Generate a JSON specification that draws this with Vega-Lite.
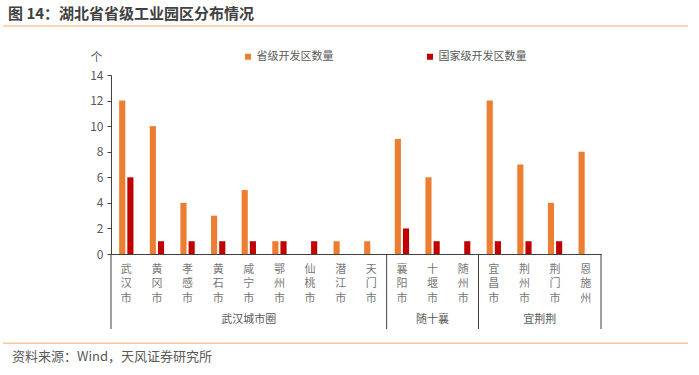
{
  "$schema": "https://vega.github.io/schema/vega-lite/v6.json",
  "autosize": "none",
  "width": 490,
  "height": 179,
  "padding": {"left": 111, "top": 75, "right": 98, "bottom": 121},
  "background": "white",
  "config": {
    "view": {"stroke": null},
    "font": "Noto Sans CJK SC",
    "axis": {"labelFont": "Noto Sans CJK SC", "titleFont": "Noto Sans CJK SC"},
    "axisY": {
      "tickCount": 7,
      "labelOverlap": false,
      "labelFlush": false,
      "grid": false,
      "tickSize": 4,
      "tickColor": "#404040",
      "domainColor": "#404040",
      "labelFontSize": 12,
      "labelColor": "#595959",
      "labelPadding": 4
    },
    "legend": {"labelFont": "Noto Sans CJK SC"}
  },
  "datasets": {
    "zones": [
      {"city": "武汉市", "type": "省级开发区数量", "count": 12},
      {"city": "武汉市", "type": "国家级开发区数量", "count": 6},
      {"city": "黄冈市", "type": "省级开发区数量", "count": 10},
      {"city": "黄冈市", "type": "国家级开发区数量", "count": 1},
      {"city": "孝感市", "type": "省级开发区数量", "count": 4},
      {"city": "孝感市", "type": "国家级开发区数量", "count": 1},
      {"city": "黄石市", "type": "省级开发区数量", "count": 3},
      {"city": "黄石市", "type": "国家级开发区数量", "count": 1},
      {"city": "咸宁市", "type": "省级开发区数量", "count": 5},
      {"city": "咸宁市", "type": "国家级开发区数量", "count": 1},
      {"city": "鄂州市", "type": "省级开发区数量", "count": 1},
      {"city": "鄂州市", "type": "国家级开发区数量", "count": 1},
      {"city": "仙桃市", "type": "省级开发区数量", "count": 0},
      {"city": "仙桃市", "type": "国家级开发区数量", "count": 1},
      {"city": "潜江市", "type": "省级开发区数量", "count": 1},
      {"city": "潜江市", "type": "国家级开发区数量", "count": 0},
      {"city": "天门市", "type": "省级开发区数量", "count": 1},
      {"city": "天门市", "type": "国家级开发区数量", "count": 0},
      {"city": "襄阳市", "type": "省级开发区数量", "count": 9},
      {"city": "襄阳市", "type": "国家级开发区数量", "count": 2},
      {"city": "十堰市", "type": "省级开发区数量", "count": 6},
      {"city": "十堰市", "type": "国家级开发区数量", "count": 1},
      {"city": "随州市", "type": "省级开发区数量", "count": 0},
      {"city": "随州市", "type": "国家级开发区数量", "count": 1},
      {"city": "宜昌市", "type": "省级开发区数量", "count": 12},
      {"city": "宜昌市", "type": "国家级开发区数量", "count": 1},
      {"city": "荆州市", "type": "省级开发区数量", "count": 7},
      {"city": "荆州市", "type": "国家级开发区数量", "count": 1},
      {"city": "荆门市", "type": "省级开发区数量", "count": 4},
      {"city": "荆门市", "type": "国家级开发区数量", "count": 1},
      {"city": "恩施州", "type": "省级开发区数量", "count": 8},
      {"city": "恩施州", "type": "国家级开发区数量", "count": 0}
    ],
    "groups": [
      {"group": "武汉城市圈", "first": "武汉市", "last": "天门市", "mid": "咸宁市"},
      {"group": "随十襄", "first": "襄阳市", "last": "随州市", "mid": "十堰市"},
      {"group": "宜荆荆", "first": "宜昌市", "last": "恩施州", "mid": "荆门市"}
    ]
  },
  "resolve": {"scale": {"x": "independent"}},
  "layer": [
    {
      "layer": [
        {
          "data": {"name": "zones"},
          "mark": {"type": "bar"},
          "encoding": {
            "x": {
              "field": "city",
              "type": "nominal",
              "sort": null,
              "scale": {"paddingInner": 0, "paddingOuter": 0,
                "domain": ["武汉市","黄冈市","孝感市","黄石市","咸宁市","鄂州市","仙桃市","潜江市","天门市","襄阳市","十堰市","随州市","宜昌市","荆州市","荆门市","恩施州"]},
              "axis": {
                "title": null,
                "labelAngle": 0,
                "labelExpr": "split(datum.label, '')",
                "labelLineHeight": 14.5,
                "labelFontSize": 11,
                "labelColor": "#767676",
                "labelPadding": 9,
                "labelBaseline": "top",
                "ticks": false,
                "domainColor": "#404040",
                "domainWidth": 1,
                "labelOverlap": false
              }
            },
            "xOffset": {
              "field": "type",
              "type": "nominal",
              "sort": null,
              "scale": {"domain": ["省级开发区数量", "国家级开发区数量"], "paddingInner": 0.25, "paddingOuter": 1.04}
            },
            "y": {
              "field": "count",
              "type": "quantitative",
              "scale": {"domain": [0, 14], "nice": false, "zero": true},
              "axis": {
                "title": "个",
                "titleAngle": 0,
                "titleX": -15,
                "titleY": -18,
                "titleAlign": "center",
                "titleBaseline": "middle",
                "titleFontSize": 12,
                "titleFontWeight": "normal",
                "titleColor": "#595959"
              }
            },
            "color": {
              "field": "type",
              "type": "nominal",
              "sort": null,
              "scale": {"domain": ["省级开发区数量", "国家级开发区数量"], "range": ["#ED7D31", "#C00000"]},
              "legend": {
                "title": null,
                "orient": "none",
                "direction": "horizontal",
                "legendX": 131.5,
                "legendY": -24,
                "padding": 0,
                "symbolType": "square",
                "symbolSize": 36,
                "symbolStrokeWidth": 0,
                "labelFontSize": 11,
                "labelColor": "#595959",
                "labelOffset": 3,
                "columnPadding": 91
              }
            }
          }
        },
        {
          "data": {"name": "groups"},
          "mark": {"type": "rule", "color": "#404040", "strokeWidth": 1},
          "encoding": {
            "x": {"field": "first", "type": "nominal", "bandPosition": 0},
            "y": {"datum": 0, "type": "quantitative"},
            "y2": {"datum": -5.87}
          }
        },
        {
          "data": {"name": "groups"},
          "transform": [{"filter": "datum.group === '宜荆荆'"}],
          "mark": {"type": "rule", "color": "#404040", "strokeWidth": 1},
          "encoding": {
            "x": {"field": "last", "type": "nominal", "bandPosition": 1},
            "y": {"datum": 0, "type": "quantitative"},
            "y2": {"datum": -5.87}
          }
        },
        {
          "data": {"name": "groups"},
          "transform": [{"filter": "datum.group !== '宜荆荆'"}],
          "mark": {"type": "text", "fontSize": 11, "color": "#595959", "baseline": "middle"},
          "encoding": {
            "x": {"field": "mid", "type": "nominal", "bandPosition": 0.5},
            "y": {"datum": -5.2, "type": "quantitative"},
            "text": {"field": "group"}
          }
        },
        {
          "data": {"name": "groups"},
          "transform": [{"filter": "datum.group === '宜荆荆'"}],
          "mark": {"type": "text", "fontSize": 11, "color": "#595959", "baseline": "middle"},
          "encoding": {
            "x": {"field": "mid", "type": "nominal", "bandPosition": 0},
            "y": {"datum": -5.2, "type": "quantitative"},
            "text": {"field": "group"}
          }
        }
      ]
    },
    {
      "data": {"values": [{}]},
      "layer": [
        {
          "mark": {"type": "rule", "color": "#F9C89E", "strokeWidth": 1.5},
          "encoding": {
            "x": {"datum": -0.2204, "type": "quantitative", "scale": {"domain": [0, 1], "nice": false, "zero": false}, "axis": null},
            "x2": {"datum": 1.1776},
            "y": {"datum": 17.83, "type": "quantitative"}
          }
        },
        {
          "mark": {"type": "rule", "color": "#F9C89E", "strokeWidth": 1.5},
          "encoding": {
            "x": {"datum": -0.2204, "type": "quantitative"},
            "x2": {"datum": 1.1776},
            "y": {"datum": -6.98, "type": "quantitative"}
          }
        },
        {
          "mark": {"type": "text", "fontSize": 15, "fontWeight": "bold", "color": "#404040", "align": "left", "baseline": "middle"},
          "encoding": {
            "x": {"datum": -0.2102, "type": "quantitative"},
            "y": {"datum": 18.77, "type": "quantitative"},
            "text": {"value": "图 14：湖北省省级工业园区分布情况"}
          }
        },
        {
          "mark": {"type": "text", "fontSize": 13, "color": "#595959", "align": "left", "baseline": "middle"},
          "encoding": {
            "x": {"datum": -0.2020, "type": "quantitative"},
            "y": {"datum": -8.06, "type": "quantitative"},
            "text": {"value": "资料来源：Wind，天风证券研究所"}
          }
        }
      ]
    }
  ]
}
